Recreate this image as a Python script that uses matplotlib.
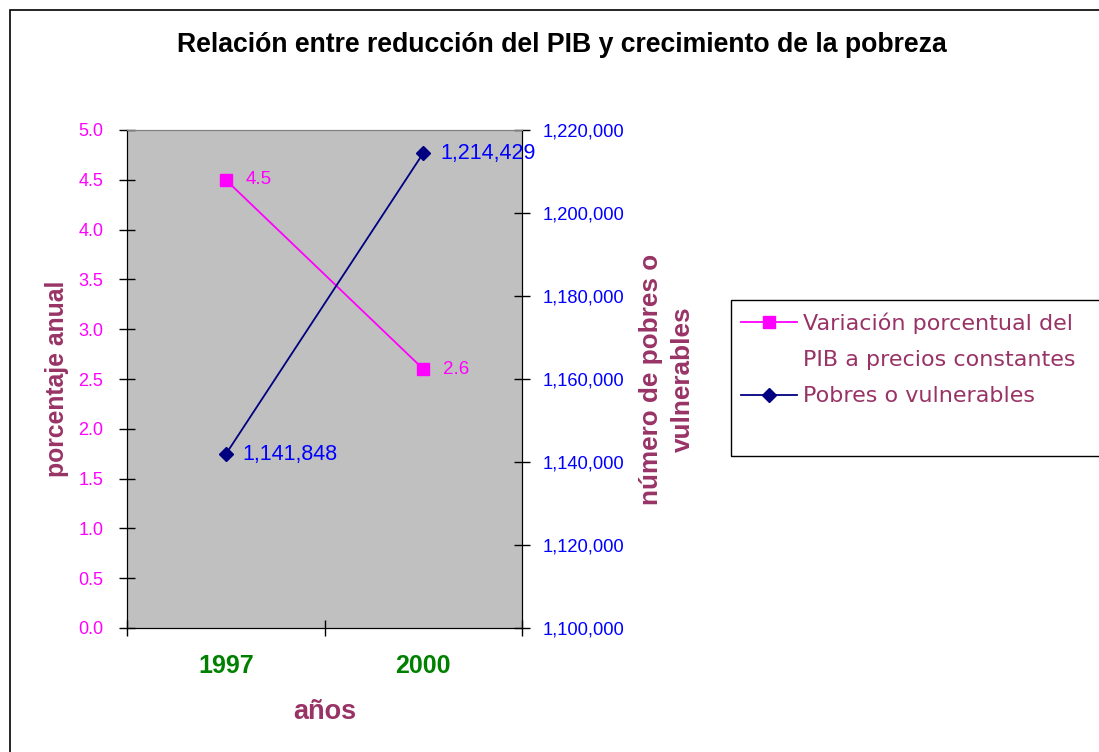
import matplotlib

matplotlib.use("Agg")

import matplotlib.pyplot as plt
from matplotlib.lines import Line2D
from matplotlib.patches import Rectangle
from matplotlib.ticker import FuncFormatter, FixedLocator

years = ["1997", "2000"]
pib_var = [4.5, 2.6]
pobres = [1141848, 1214429]

left_ticks = [0.0, 0.5, 1.0, 1.5, 2.0, 2.5, 3.0, 3.5, 4.0, 4.5, 5.0]
right_ticks = [1100000, 1120000, 1140000, 1160000, 1180000, 1200000, 1220000]

PLUM = "#993366"
MAGENTA = "#FF00FF"
NAVY = "#000080"
BLUE = "#0000FF"
GREEN = "#008000"
ARIAL = "Liberation Sans"

W, H = 1099, 752
fig = plt.figure(figsize=(W / 100, H / 100), dpi=100)

# outer chart border (runs off the right and bottom edges)
fig.add_artist(Rectangle((10 / W, -0.05), 1.1, 1 - 10 / H + 0.05,
                         transform=fig.transFigure, fill=False,
                         edgecolor="black", linewidth=1.2))

ax = fig.add_axes([127 / W, 1 - 628 / H, 395 / W, 498 / H])
ax.set_facecolor("#C0C0C0")
ax2 = ax.twinx()

x = list(range(len(years)))
l1, = ax.plot(x, pib_var, color=MAGENTA, marker="s", markersize=8.5, linewidth=1.3)
l2, = ax2.plot(x, pobres, color=NAVY, marker="D", markersize=7, linewidth=1.3)

for xi, v in zip(x, pib_var):
    ax.annotate(f"{v:.1f}", (xi, v), xytext=(14, 0), textcoords="offset points",
                va="center", ha="left", color=MAGENTA, fontsize=13.5, family=ARIAL)
for xi, v in zip(x, pobres):
    ax2.annotate(f"{v:,}", (xi, v), xytext=(12, 0), textcoords="offset points",
                 va="center", ha="left", color=BLUE, fontsize=15.5, family=ARIAL)

ax.set_xlim(-0.5, len(years) - 0.5)
ax.set_ylim(0, 5)
ax2.set_ylim(1100000, 1220000)

ax.set_xticks(x)
ax.set_xticklabels(years, color=GREEN, fontsize=18, fontweight="bold", family=ARIAL)
ax.xaxis.set_minor_locator(FixedLocator([-0.5, 0.5, 1.5]))
ax.tick_params(axis="x", which="major", length=0, pad=19)
ax.tick_params(axis="x", which="minor", direction="inout", length=11, width=1)

ax.set_yticks(left_ticks)
ax.yaxis.set_major_formatter(FuncFormatter(lambda v, p: f"{v:.1f}"))
ax.tick_params(axis="y", direction="inout", length=12, width=1,
               labelcolor=MAGENTA, labelsize=13, pad=11)
for t in ax.get_yticklabels():
    t.set_family(ARIAL)

ax2.set_yticks(right_ticks)
ax2.yaxis.set_major_formatter(FuncFormatter(lambda v, p: f"{v:,.0f}"))
ax2.tick_params(axis="y", direction="inout", length=12, width=1,
                labelcolor=BLUE, labelsize=13.2, pad=9)
for t in ax2.get_yticklabels():
    t.set_family(ARIAL)

for a in (ax, ax2):
    a.spines["top"].set_color("#808080")
    a.spines["left"].set_color("black")
    a.spines["right"].set_color("black")
    a.spines["bottom"].set_color("black")

ax.set_xlabel("años", color=PLUM, fontsize=19.5, fontweight="bold", family=ARIAL)
ax.xaxis.set_label_coords((325 - 127) / 395, (628 - 712) / 498)
ax.xaxis.label.set_va("center")

ax.set_ylabel("porcentaje anual", color=PLUM, fontsize=17.8, fontweight="bold", family=ARIAL)
ax.yaxis.set_label_coords((57 - 127) / 395, 0.5)
ax.yaxis.label.set_va("center")

ax2.set_ylabel("número de pobres o\nvulnerables", color=PLUM, fontsize=18.8,
               fontweight="bold", family=ARIAL, linespacing=1.45)
ax2.yaxis.set_label_coords((667 - 127) / 395, 0.5)
ax2.yaxis.label.set_va("center")

fig.suptitle("Relación entre reducción del PIB y crecimiento de la pobreza",
             x=562 / W, y=1 - 45 / H, va="center", fontsize=19.2,
             fontweight="bold", family=ARIAL)

# legend box (runs off the right edge)
fig.add_artist(Rectangle((731 / W, 1 - 456 / H), 0.4, 156 / H,
                         transform=fig.transFigure, fill=False,
                         edgecolor="black", linewidth=1))
blank = Line2D([], [], linestyle="none")
fig.legend([l1, blank, l2],
           ["Variación porcentual del", "PIB a precios constantes", "Pobres o vulnerables"],
           loc="upper left", bbox_to_anchor=(741 / W, 1 - 312 / H),
           frameon=False, borderpad=0, borderaxespad=0, handlelength=2.5,
           handletextpad=0.27, labelspacing=0.74,
           labelcolor=PLUM, prop={"family": "DejaVu Sans", "size": 16})

fig.savefig("out.png", dpi=100)
